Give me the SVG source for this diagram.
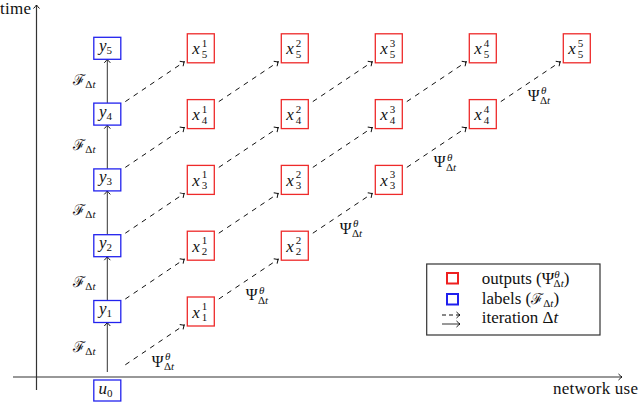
<svg xmlns="http://www.w3.org/2000/svg" width="640" height="402" viewBox="0 0 640 402" font-family="Liberation Serif">
<style>
text{fill:#111}
.it{font-style:italic}
.m{font-size:17px}
.s{font-size:11px}
.ps{font-size:16px}
.cal{font-size:15px}
.bl{fill:#fff;stroke:#2222ee;stroke-width:1.3}
.rd{fill:#fff;stroke:#ee2a2a;stroke-width:1.3}
.axis{stroke:#333;stroke-width:1.2;fill:none;marker-end:url(#ah)}
.sol{stroke:#333;stroke-width:1;fill:none;marker-end:url(#ah)}
.dash{stroke:#111;stroke-width:1;fill:none;stroke-dasharray:5 5;marker-end:url(#ah)}
</style>
<defs>
<marker id="ah" viewBox="-5 -5 7 10" markerWidth="7" markerHeight="10" refX="0" refY="0" orient="auto" markerUnits="userSpaceOnUse">
<path d="M-3.5,-3 Q-1.2,-0.8 0,0 Q-1.2,0.8 -3.5,3" fill="none" stroke="#111" stroke-width="1" stroke-dasharray="none"/>
</marker>
</defs>

<g id="axes">
<line class="axis" x1="36.5" y1="390" x2="36.5" y2="5"/>
<line class="axis" x1="13" y1="377" x2="622" y2="377"/>
<text class="m" x="0" y="14" textLength="31">time</text>
<text class="m" x="553" y="394" textLength="85">network use</text>
</g>

<g id="connectors">
<line class="sol" x1="107.3" y1="372" x2="107.3" y2="322.5"/>
<line class="sol" x1="107.3" y1="300.5" x2="107.3" y2="256.7"/>
<line class="sol" x1="107.3" y1="234.7" x2="107.3" y2="190.9"/>
<line class="sol" x1="107.3" y1="168.9" x2="107.3" y2="125.1"/>
<line class="sol" x1="107.3" y1="103.1" x2="107.3" y2="59.3"/>
<line class="dash" x1="125.3" y1="364.8" x2="184.3" y2="325"/>
<line class="dash" x1="125.3" y1="299" x2="184.3" y2="259.2"/>
<line class="dash" x1="125.3" y1="233.2" x2="184.3" y2="193.4"/>
<line class="dash" x1="125.3" y1="167.4" x2="184.3" y2="127.6"/>
<line class="dash" x1="125.3" y1="101.6" x2="184.3" y2="61.8"/>
<line class="dash" x1="218.8" y1="299" x2="278.3" y2="259.2"/>
<line class="dash" x1="218.8" y1="233.2" x2="278.3" y2="193.4"/>
<line class="dash" x1="312.8" y1="233.2" x2="372.3" y2="193.4"/>
<line class="dash" x1="218.8" y1="167.4" x2="278.3" y2="127.6"/>
<line class="dash" x1="312.8" y1="167.4" x2="372.3" y2="127.6"/>
<line class="dash" x1="406.8" y1="167.4" x2="466.3" y2="127.6"/>
<line class="dash" x1="218.8" y1="101.6" x2="278.3" y2="61.8"/>
<line class="dash" x1="312.8" y1="101.6" x2="372.3" y2="61.8"/>
<line class="dash" x1="406.8" y1="101.6" x2="466.3" y2="61.8"/>
<line class="dash" x1="500.8" y1="101.6" x2="560.3" y2="61.8"/>
</g>

<g id="labels-F">
<text x="73.3" y="85"><tspan class="cal">ℱ</tspan><tspan class="s" dy="3">Δ</tspan><tspan class="s it">t</tspan></text>
<text x="73.3" y="150"><tspan class="cal">ℱ</tspan><tspan class="s" dy="3">Δ</tspan><tspan class="s it">t</tspan></text>
<text x="73.3" y="215"><tspan class="cal">ℱ</tspan><tspan class="s" dy="3">Δ</tspan><tspan class="s it">t</tspan></text>
<text x="73.3" y="286.5"><tspan class="cal">ℱ</tspan><tspan class="s" dy="3">Δ</tspan><tspan class="s it">t</tspan></text>
<text x="73.3" y="351.5"><tspan class="cal">ℱ</tspan><tspan class="s" dy="3">Δ</tspan><tspan class="s it">t</tspan></text>
</g>

<g id="labels-Psi">
<text class="ps" x="151.7" y="366.7">Ψ</text><text class="s it" x="165" y="360">θ</text><text class="s" x="164" y="370">Δ<tspan class="it">t</tspan></text>
<text class="ps" x="245.7" y="300.2">Ψ</text><text class="s it" x="259" y="293.5">θ</text><text class="s" x="258" y="303.5">Δ<tspan class="it">t</tspan></text>
<text class="ps" x="339.7" y="233.7">Ψ</text><text class="s it" x="353" y="227">θ</text><text class="s" x="352" y="237">Δ<tspan class="it">t</tspan></text>
<text class="ps" x="433.7" y="167.2">Ψ</text><text class="s it" x="447" y="160.5">θ</text><text class="s" x="446" y="170.5">Δ<tspan class="it">t</tspan></text>
<text class="ps" x="527.7" y="100.7">Ψ</text><text class="s it" x="541" y="94">θ</text><text class="s" x="540" y="104">Δ<tspan class="it">t</tspan></text>
</g>

<g id="u0"><rect class="bl" x="93.8" y="380" width="27" height="21"/><text x="98.5" y="393.5"><tspan class="m it">u</tspan><tspan class="s" dy="3">0</tspan></text></g>
<g id="y1"><rect class="bl" x="93.8" y="300.5" width="27" height="22"/><text x="99" y="314"><tspan class="m it">y</tspan><tspan class="s" dy="3">1</tspan></text></g>
<g id="y2"><rect class="bl" x="93.8" y="234.7" width="27" height="22"/><text x="99" y="248.2"><tspan class="m it">y</tspan><tspan class="s" dy="3">2</tspan></text></g>
<g id="y3"><rect class="bl" x="93.8" y="168.9" width="27" height="22"/><text x="99" y="182.4"><tspan class="m it">y</tspan><tspan class="s" dy="3">3</tspan></text></g>
<g id="y4"><rect class="bl" x="93.8" y="103.1" width="27" height="22"/><text x="99" y="116.6"><tspan class="m it">y</tspan><tspan class="s" dy="3">4</tspan></text></g>
<g id="y5"><rect class="bl" x="93.8" y="37.3" width="27" height="22"/><text x="99" y="50.8"><tspan class="m it">y</tspan><tspan class="s" dy="3">5</tspan></text></g>

<g id="x1_1"><rect class="rd" x="187.3" y="297" width="27" height="29"/><text class="m it" x="192.3" y="317.5">x</text><text class="s" x="201.8" y="310">1</text><text class="s" x="201.8" y="321">1</text></g>

<g id="x2_1"><rect class="rd" x="187.3" y="231.2" width="27" height="29"/><text class="m it" x="192.3" y="251.7">x</text><text class="s" x="201.8" y="244.2">1</text><text class="s" x="201.8" y="255.2">2</text></g>
<g id="x2_2"><rect class="rd" x="281.3" y="231.2" width="27" height="29"/><text class="m it" x="286.3" y="251.7">x</text><text class="s" x="295.8" y="244.2">2</text><text class="s" x="295.8" y="255.2">2</text></g>

<g id="x3_1"><rect class="rd" x="187.3" y="165.4" width="27" height="29"/><text class="m it" x="192.3" y="185.9">x</text><text class="s" x="201.8" y="178.4">1</text><text class="s" x="201.8" y="189.4">3</text></g>
<g id="x3_2"><rect class="rd" x="281.3" y="165.4" width="27" height="29"/><text class="m it" x="286.3" y="185.9">x</text><text class="s" x="295.8" y="178.4">2</text><text class="s" x="295.8" y="189.4">3</text></g>
<g id="x3_3"><rect class="rd" x="375.3" y="165.4" width="27" height="29"/><text class="m it" x="380.3" y="185.9">x</text><text class="s" x="389.8" y="178.4">3</text><text class="s" x="389.8" y="189.4">3</text></g>

<g id="x4_1"><rect class="rd" x="187.3" y="99.6" width="27" height="29"/><text class="m it" x="192.3" y="120.1">x</text><text class="s" x="201.8" y="112.6">1</text><text class="s" x="201.8" y="123.6">4</text></g>
<g id="x4_2"><rect class="rd" x="281.3" y="99.6" width="27" height="29"/><text class="m it" x="286.3" y="120.1">x</text><text class="s" x="295.8" y="112.6">2</text><text class="s" x="295.8" y="123.6">4</text></g>
<g id="x4_3"><rect class="rd" x="375.3" y="99.6" width="27" height="29"/><text class="m it" x="380.3" y="120.1">x</text><text class="s" x="389.8" y="112.6">3</text><text class="s" x="389.8" y="123.6">4</text></g>
<g id="x4_4"><rect class="rd" x="469.3" y="99.6" width="27" height="29"/><text class="m it" x="474.3" y="120.1">x</text><text class="s" x="483.8" y="112.6">4</text><text class="s" x="483.8" y="123.6">4</text></g>

<g id="x5_1"><rect class="rd" x="187.3" y="33.8" width="27" height="29"/><text class="m it" x="192.3" y="54.3">x</text><text class="s" x="201.8" y="46.8">1</text><text class="s" x="201.8" y="57.8">5</text></g>
<g id="x5_2"><rect class="rd" x="281.3" y="33.8" width="27" height="29"/><text class="m it" x="286.3" y="54.3">x</text><text class="s" x="295.8" y="46.8">2</text><text class="s" x="295.8" y="57.8">5</text></g>
<g id="x5_3"><rect class="rd" x="375.3" y="33.8" width="27" height="29"/><text class="m it" x="380.3" y="54.3">x</text><text class="s" x="389.8" y="46.8">3</text><text class="s" x="389.8" y="57.8">5</text></g>
<g id="x5_4"><rect class="rd" x="469.3" y="33.8" width="27" height="29"/><text class="m it" x="474.3" y="54.3">x</text><text class="s" x="483.8" y="46.8">4</text><text class="s" x="483.8" y="57.8">5</text></g>
<g id="x5_5"><rect class="rd" x="563.3" y="33.8" width="27" height="29"/><text class="m it" x="568.3" y="54.3">x</text><text class="s" x="577.8" y="46.8">5</text><text class="s" x="577.8" y="57.8">5</text></g>

<g id="legend">
<rect x="426.7" y="264" width="173.3" height="71" fill="#fff" stroke="#333" stroke-width="1.2"/>
<rect x="447" y="273" width="11" height="10.5" fill="none" stroke="#ee2020" stroke-width="2"/>
<rect x="447" y="294" width="11" height="10.5" fill="none" stroke="#2020ee" stroke-width="2"/>
<line class="dash" x1="442" y1="315" x2="460" y2="315" style="stroke-dasharray:4 3"/>
<line class="sol" x1="442" y1="324" x2="460" y2="324"/>
<text x="481.7" y="284"><tspan class="m">outputs (Ψ</tspan><tspan class="s it" dy="-6">θ</tspan><tspan class="s" dx="-6" dy="9">Δ</tspan><tspan class="s it">t</tspan><tspan class="m" dy="-3">)</tspan></text>
<text x="481.7" y="303.5"><tspan class="m">labels (</tspan><tspan class="cal">ℱ</tspan><tspan class="s" dy="3">Δ</tspan><tspan class="s it">t</tspan><tspan class="m" dy="-3">)</tspan></text>
<text class="m" x="481.7" y="323">iteration Δ<tspan class="it">t</tspan></text>
</g>
</svg>
